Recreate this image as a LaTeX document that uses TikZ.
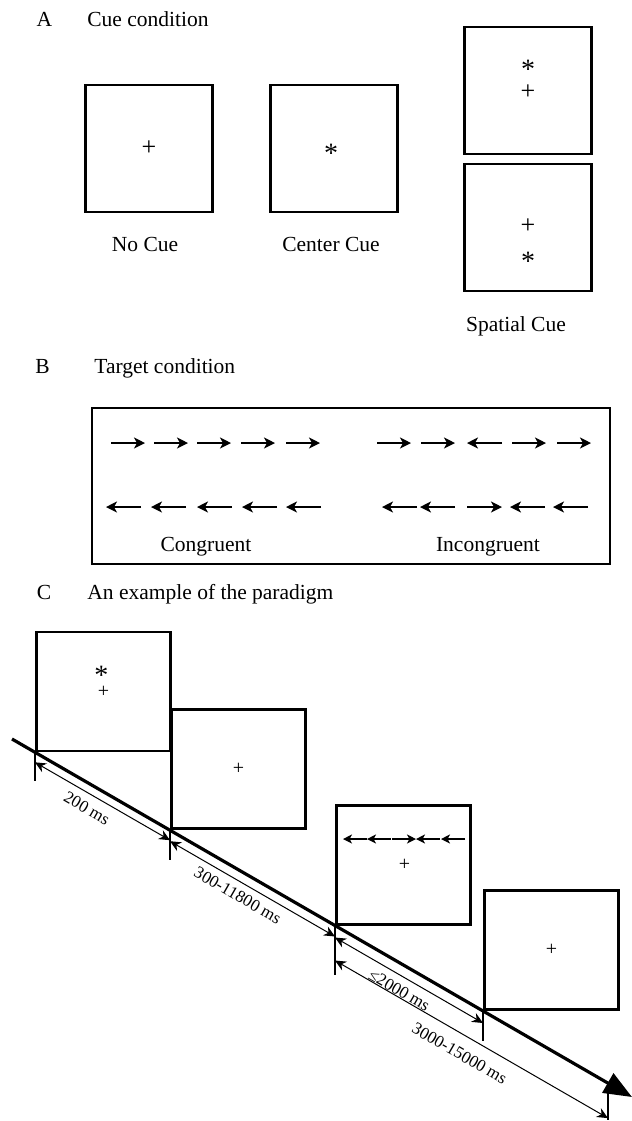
\documentclass[tikz,border=0pt]{standalone}
\usepackage{fontspec}
\setmainfont{Liberation Serif}
\usetikzlibrary{positioning}
\usetikzlibrary{calc}
\usetikzlibrary{arrows.meta}
\tikzset{
	screen/.style={draw, rectangle, line width=1.4pt, inner sep=0pt, minimum width=63.5pt, minimum height=63.5pt},
	% screens on the time line, hung from their lower left corner
	slide/.style={draw, rectangle, line width=1.4pt, inner sep=0pt, minimum width=67pt, minimum height=59.5pt, anchor=south west},
	txt/.style={inner sep=0pt, font=\fontsize{10.75}{13}\selectfont},
	plussign/.style={inner sep=0pt, font=\fontsize{13}{15}\selectfont},
	txtsmall/.style={inner sep=0pt, font=\fontsize{10}{12}\selectfont},
	starsign/.style={inner sep=0pt, font=\fontsize{14}{16}\selectfont, yshift=-2.4pt},
	flank/.style={line width=0.75pt, -{Stealth[length=5.5pt, width=5.5pt, inset=1.5pt]}},
	mini/.style={line width=0.6pt, -{Stealth[length=4.5pt, width=4.5pt, inset=1.2pt]}},
	gap/.style={line width=0.5pt, {Stealth[length=5.5pt, width=5pt]}-{Stealth[length=5.5pt, width=5pt]}},
	stem/.style={line width=0.75pt},
	dur/.style={sloped, inner sep=0pt, font=\fontsize{8.5}{10}\selectfont},
}

\begin{document}
\begin{tikzpicture}[x=0.5pt, y=-0.5pt]
	\useasboundingbox (0,0) rectangle (632,1121);
	
	% A
	\node (la) [txt, anchor=base] at (44.5,26.7) {A};
	\node (ha) [txt, anchor=base west] at (87,26.7) {Cue condition};
	\node (nc) [screen] at (149,148.5) {};
	\node (cc) [screen] at (334,148.5) {};
	\node (su) [screen] at (528,90.5) {};
	\node (sd) [screen] at (528,227.5) {};
	\node (ncp) [plussign] at (nc) {+};
	\node (ccs) [starsign, xshift=-1.5pt] at (cc) {*};
	\node (sus) [starsign] at ($(su)+(0,-26)$) {*};
	\node (sup) [plussign] at ($(su)+(0,1.5)$) {+};
	\node (sdp) [plussign] at ($(sd)+(0,-1.5)$) {+};
	\node (sds) [starsign] at ($(sd)+(0,29.5)$) {*};
	\node (ncl) [txt, below=11.5pt of nc, xshift=-2pt] {No Cue};
	\node (ccl) [txt, below=11.5pt of cc, xshift=-1.5pt] {Center Cue};
	\node (sdl) [txt, below=12pt of sd, xshift=-6pt] {Spatial Cue};
	
	% B
	\node (lb) [txt, anchor=base] at (42.5,373.3) {B};
	\node (hb) [txt, anchor=base west] at (94,373.3) {Target condition};
	\node (tg) [draw, line width=1.4pt, inner sep=0pt, minimum width=259pt, minimum height=78pt] at (351,486) {};
	\foreach \a/\b in {111/145, 154/188, 197/231, 241/275, 286/320, 377/411, 421/455, 502/467, 512/546, 557/591}
		\draw[flank] (\a,443) -- (\b,443);
	\foreach \a/\b in {141/106, 186/151, 232/197, 277/242, 321/286, 417/382, 455/420, 467/502, 545/510, 588/553}
		\draw[flank] (\a,507) -- (\b,507);
	\node (cg) [txt, anchor=base] at (206,551) {Congruent};
	\node (icg) [txt, anchor=base] at (488,551) {Incongruent};
	
	% C
	\node (lc) [txt, anchor=base] at (44,599) {C};
	\node (hc) [txt, anchor=base west] at (87,599) {An example of the paradigm};
	\coordinate (t0) at (12,739);
	\coordinate (t1) at (35,752.3);
	\coordinate (t2) at (170,830.2);
	\coordinate (t3) at (335,925.5);
	\coordinate (t4) at (483,1011);
	\coordinate (t5) at (608,1083.1);
	\coordinate (tend) at (632,1097);
	
	\node (f1) [slide] at (t1) {};
	\node (f2) [slide] at (t2) {};
	\node (f3) [slide] at (t3) {};
	\node (f4) [slide] at (t4) {};
	\node (f1s) [starsign] at ($(f1.center)+(-2,-21)$) {*};
	\node (f1p) [txtsmall] at (f1.center) {+};
	\node (f2p) [txtsmall] at (f2.center) {+};
	\node (f3p) [txtsmall] at ($(f3.center)+(1,0)$) {+};
	\node (f4p) [txtsmall] at (f4.center) {+};
	\foreach \a/\b in {367/343, 391/367, 392/416, 440/416, 465/441}
		\draw[mini] (\a,839) -- (\b,839);
	
	\draw[line width=1.6pt, -{Triangle[length=14pt, width=11pt]}] (t0) -- (tend);
	\draw[stem] (t1) -- ++(0,29);
	\draw[stem] (t2) -- ++(0,30);
	\draw[stem] (t3) -- ++(0,49.5);
	\draw[stem] (t4) -- ++(0,30);
	\draw[stem] (t5) -- ++(0,37);
	\draw[gap] ($(t1)+(0,10)$) -- ($(t2)+(0,10)$) node[dur, pos=0.435, below=3.8pt] {200 ms};
	\draw[gap] ($(t2)+(0,11)$) -- ($(t3)+(0,11)$) node[dur, pos=0.45, below=3.4pt] {300-11800 ms};
	\draw[gap] ($(t3)+(0,12)$) -- ($(t4)+(0,12)$) node[dur, pos=0.48, below=3.6pt] {≤2000 ms};
	\draw[gap] ($(t3)+(0,35)$) -- ($(t5)+(0,35)$) node[dur, pos=0.49, below=6pt] {3000-15000 ms};
\end{tikzpicture}
\end{document}
